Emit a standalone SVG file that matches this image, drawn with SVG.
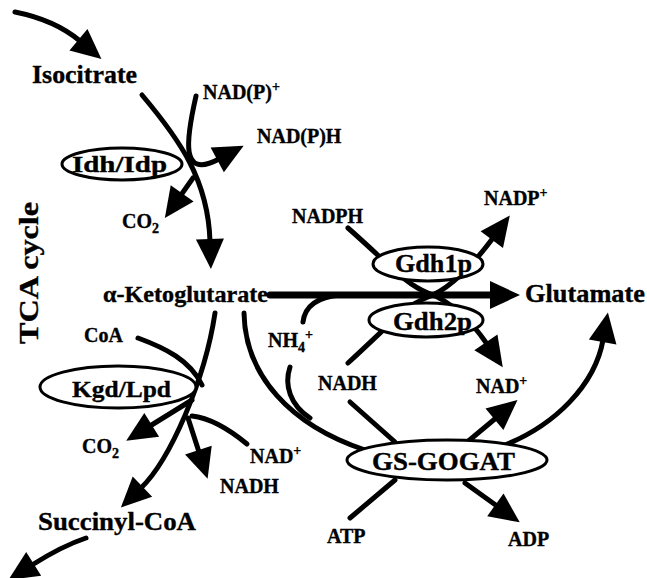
<svg xmlns="http://www.w3.org/2000/svg" width="647" height="578" viewBox="0 0 647 578">
<style>
text{font-family:"Liberation Serif","Times New Roman",serif;font-weight:bold;fill:#000;stroke:#000;stroke-width:0.35}
.s{font-size:20px}
.b{font-size:25px}
.sup{font-size:14px}
.c{fill:none;stroke:#000;stroke-width:5;stroke-linecap:round}
.a{marker-end:url(#ah)}
.e{fill:#fff;stroke:#000;stroke-width:3}
</style>
<defs>
<marker id="ah" markerUnits="userSpaceOnUse" orient="auto" markerWidth="40" markerHeight="40" refX="2" refY="0" viewBox="0 -20 40 40" overflow="visible">
<path d="M0,-14 L30,0 L0,14 z" fill="#000"/>
</marker>
</defs>
<rect width="647" height="578" fill="#fff"/>
<g id="connectors">
<path class="c a" d="M15,12 Q55,20 80,41"/>
<path class="c a" d="M142,95 C180,140 208,180 210,241"/>
<path class="c a" d="M196,96 C186,140 180,180 219,159"/>
<path class="c a" d="M193,178 L181,195"/>
<path class="c a" d="M270,295 L492,295" style="stroke-width:7"/>
<path class="c a" d="M348,228 C390,265 405,284 428,293 C452,302 472,322 487,344"/>
<path class="c a" d="M348,363 C395,320 405,306 428,297 C452,288 475,262 493,238"/>
<path class="c" d="M303,322 C305,305 318,297 340,295"/>
<path class="c" d="M244,313 C245,375 290,425 365,450"/>
<path class="c" d="M290,367 C284,385 290,405 310,418"/>
<path class="c" d="M350,402 L395,442"/>
<path class="c a" d="M466,443 L496,418"/>
<path class="c" d="M350,518 L395,480"/>
<path class="c a" d="M465,483 L497,506"/>
<path class="c a" d="M505,445 C555,425 595,385 603,340"/>
<path class="c a" d="M215,313 C205,380 170,460 141,488"/>
<path class="c" d="M138,338 C165,348 190,360 202,385"/>
<path class="c a" d="M192,400 L150,426"/>
<path class="c a" d="M188,418 L199,452"/>
<path class="c" d="M192,416 C210,418 230,430 247,444"/>
<path class="c a" d="M86,538 Q62,546 32,565"/>
</g>
<g id="isocitrate"><text class="b" x="32" y="83" textLength="105" lengthAdjust="spacingAndGlyphs">Isocitrate</text></g>
<g id="nadp-plus-1"><text class="s" x="203" y="99">NAD(P)<tspan class="sup" dy="-8">+</tspan></text></g>
<g id="nadph-1"><text class="s" x="257" y="143">NAD(P)H</text></g>
<g id="idh"><ellipse class="e" cx="122" cy="164" rx="60" ry="16"/><text x="72" y="172" style="font-size:23px" textLength="95" lengthAdjust="spacingAndGlyphs">Idh/Idp</text></g>
<g id="co2-1"><text class="s" x="122" y="228">CO<tspan class="sup" dy="5">2</tspan></text></g>
<g id="tca"><text transform="translate(38,273) rotate(-90)" text-anchor="middle" style="font-size:28px" textLength="142" lengthAdjust="spacingAndGlyphs">TCA cycle</text></g>
<g id="akg"><text x="103" y="302" style="font-size:23px" textLength="165" lengthAdjust="spacingAndGlyphs">α-Ketoglutarate</text></g>
<g id="nadph-2"><text class="s" x="292" y="223">NADPH</text></g>
<g id="nadp-plus-2"><text class="s" x="484" y="205">NADP<tspan class="sup" dy="-8">+</tspan></text></g>
<g id="gdh1p"><ellipse class="e" cx="428" cy="264" rx="55" ry="17"/><text x="395" y="272" style="font-size:25px" textLength="77" lengthAdjust="spacingAndGlyphs">Gdh1p</text></g>
<g id="gdh2p"><ellipse class="e" cx="426" cy="320" rx="57" ry="17"/><text x="393" y="330" style="font-size:25px" textLength="79" lengthAdjust="spacingAndGlyphs">Gdh2p</text></g>
<g id="glutamate"><text x="525" y="302" style="font-size:26px" textLength="120" lengthAdjust="spacingAndGlyphs">Glutamate</text></g>
<g id="nh4"><text class="s" x="268" y="347">NH<tspan class="sup" dy="5">4</tspan><tspan class="sup" dy="-13">+</tspan></text></g>
<g id="nadh-2"><text class="s" x="318" y="390">NADH</text></g>
<g id="nad-2"><text class="s" x="476" y="393">NAD<tspan class="sup" dy="-8">+</tspan></text></g>
<g id="coa"><text class="s" x="84" y="342">CoA</text></g>
<g id="kgd"><ellipse class="e" cx="118" cy="387" rx="78" ry="21"/><text x="72" y="397" style="font-size:24px" textLength="99" lengthAdjust="spacingAndGlyphs">Kgd/Lpd</text></g>
<g id="co2-2"><text class="s" x="82" y="453">CO<tspan class="sup" dy="5">2</tspan></text></g>
<g id="nad-1"><text class="s" x="250" y="463">NAD<tspan class="sup" dy="-8">+</tspan></text></g>
<g id="nadh-1"><text class="s" x="220" y="493">NADH</text></g>
<g id="gsgogat"><ellipse class="e" cx="447" cy="460" rx="100" ry="20"/><text class="b" x="372" y="470" textLength="143" lengthAdjust="spacingAndGlyphs">GS-GOGAT</text></g>
<g id="succinyl"><text class="b" x="38" y="530" textLength="158" lengthAdjust="spacingAndGlyphs">Succinyl-CoA</text></g>
<g id="atp"><text class="s" x="327" y="543">ATP</text></g>
<g id="adp"><text class="s" x="508" y="546">ADP</text></g>
</svg>
